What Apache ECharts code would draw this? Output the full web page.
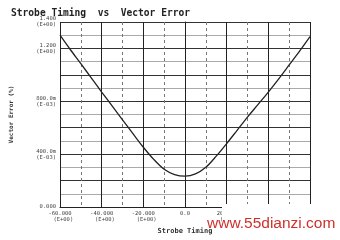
<!DOCTYPE html>
<html><head><meta charset="utf-8">
<script src="https://cdn.jsdelivr.net/npm/echarts@6/dist/echarts.min.js"></script>
<style>html,body{margin:0;padding:0;background:#fff}#c{width:340px;height:240px}</style>
</head><body><div id="c"></div>
<script>
var timing = [-60,-55,-50,-45,-40,-35,-30,-25,-20,-15,-10,-5,0,5,10,15,20,25,30,35,40,45,50,55,60];
var vecErr = [1.30,1.19,1.085,0.977,0.87,0.765,0.66,0.555,0.452,0.36,0.285,0.245,0.233,0.25,0.30,0.385,0.48,0.58,0.68,0.775,0.87,0.97,1.075,1.18,1.29];
var xLabels = {'-60':'-60.000\n  (E+00)','-40':'-40.000\n  (E+00)','-20':'-20.000\n  (E+00)','0':'0.0','20':'20.000\n  (E+00)','40':'40.000\n  (E+00)','60':'60.000\n  (E+00)'};
var yLabels = {'0':'0.000','0.4':'400.0m\n(E-03)','0.8':'800.0m\n(E-03)','1.2':'1.200\n(E+00)','1.4':'1.400\n(E+00)'};
var data = timing.map(function(t,i){return [t, vecErr[i]];});
var chart = echarts.init(document.getElementById('c'), null, {renderer:'canvas'});
chart.setOption({
  animation:false,
  backgroundColor:'#fff',
  title:{text:'Strobe Timing  vs  Vector Error',left:6,top:3,
    textStyle:{fontFamily:'DejaVu Sans Mono',fontSize:9.6,fontWeight:'bold',color:'#222'}},
  grid:{left:56,right:30,top:22,bottom:33},
  xAxis:{type:'value',min:-60,max:60,interval:20,
    name:'Strobe Timing',nameLocation:'middle',nameGap:18,
    nameTextStyle:{fontFamily:'DejaVu Sans Mono',fontSize:7,fontWeight:'bold',color:'#333'},
    axisLine:{show:true,lineStyle:{color:'#222',width:1}},
    axisTick:{show:false},
    axisLabel:{fontFamily:'DejaVu Sans Mono',fontSize:5.5,color:'#444',lineHeight:6,margin:4,
      formatter:function(v){return xLabels[String(Math.round(v))]||'';}},
    splitLine:{show:true,lineStyle:{color:'#222',width:1}},
    minorTick:{show:false,splitNumber:2},
    minorSplitLine:{show:true,lineStyle:{color:'#777',width:1,type:[3,3]}}
  },
  yAxis:{type:'value',min:0,max:1.4,interval:0.2,
    name:'Vector Error (%)',nameLocation:'middle',nameGap:46,nameRotate:90,
    nameTextStyle:{fontFamily:'DejaVu Sans Mono',fontSize:6,fontWeight:'bold',color:'#333'},
    axisLine:{show:true,lineStyle:{color:'#222',width:1}},
    axisTick:{show:false},
    axisLabel:{fontFamily:'DejaVu Sans Mono',fontSize:5.5,color:'#444',lineHeight:6,margin:4,
      formatter:function(v){var k=String(Math.round(v*10)/10);return yLabels[k]||'';}},
    splitLine:{show:true,lineStyle:{color:'#333',width:1}},
    minorTick:{show:false,splitNumber:2},
    minorSplitLine:{show:true,lineStyle:{color:'#aaa',width:1}}
  },
  series:[{type:'line',data:data,smooth:0.3,showSymbol:false,
    lineStyle:{color:'#222',width:1.3}}],
  graphic:[
    {type:'rect',left:222,top:204,shape:{width:118,height:36},style:{fill:'#fff'},z:100},
    {type:'text',left:207,top:216,style:{text:'www.55dianzi.com',fill:'#d0302c',
      font:'15.5px "Liberation Sans", Arial, sans-serif'},z:101}
  ]
});
</script></body></html>
